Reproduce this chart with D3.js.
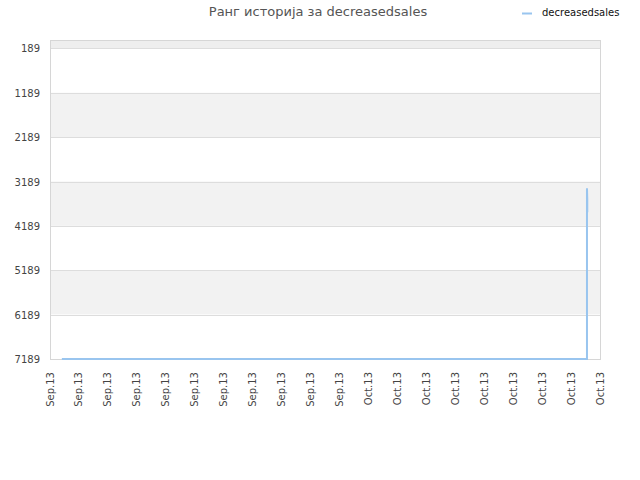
<!DOCTYPE html>
<html>
<head>
<meta charset="utf-8">
<script src="https://cdn.jsdelivr.net/npm/d3@7"></script>
<style>
  body { margin: 0; background: #fff; }
  text { font-family: "DejaVu Sans", sans-serif; }
</style>
</head>
<body>
<div id="chart"></div>
<script>
// x tick labels, one per tick slot
var tickLabels = ['Sep.13', 'Sep.13', 'Sep.13', 'Sep.13', 'Sep.13', 'Sep.13', 'Sep.13', 'Sep.13', 'Sep.13', 'Sep.13', 'Sep.13',
  'Oct.13', 'Oct.13', 'Oct.13', 'Oct.13', 'Oct.13', 'Oct.13', 'Oct.13', 'Oct.13', 'Oct.13'];
var yTicks = [189, 1189, 2189, 3189, 4189, 5189, 6189, 7189];
// series: position in tick slots, rank
var seriesX = [0.41, 18.55, 18.55, 18.56, 18.56];
var seriesRank = [7189, 7189, 3340, 3590, 3880];
var seriesName = 'decreasedsales';

var chartW = 640, chartH = 480;
var plotLeft = 50, plotRight = 600, plotTop = 40, plotBottom = 359;

var svg = d3.select('#chart').append('svg')
  .attr('width', chartW)
  .attr('height', chartH);

var x = d3.scaleLinear().domain([0, tickLabels.length - 1]).range([plotLeft, plotRight]);
var y = d3.scaleLinear().domain([0, 7189]).range([plotTop, plotBottom]);

// bands
var bandEdges = [0].concat(yTicks);
for (var i = 0; i < bandEdges.length - 1; i++) {
  svg.append('rect')
    .attr('x', plotLeft)
    .attr('y', y(bandEdges[i]))
    .attr('width', plotRight - plotLeft)
    .attr('height', y(bandEdges[i + 1]) - y(bandEdges[i]))
    .attr('fill', i === 0 ? '#eeeeee' : (i % 2 === 0 ? '#f2f2f2' : '#ffffff'));
}

// grid lines
svg.selectAll('line.grid')
  .data(yTicks)
  .enter().append('line')
  .attr('class', 'grid')
  .attr('x1', plotLeft).attr('x2', plotRight)
  .attr('y1', function (d) { return Math.round(y(d)) + 0.5; })
  .attr('y2', function (d) { return Math.round(y(d)) + 0.5; })
  .attr('stroke', '#dddddd');

// border
svg.append('rect')
  .attr('x', plotLeft + 0.5).attr('y', plotTop + 0.5)
  .attr('width', plotRight - plotLeft).attr('height', plotBottom - plotTop)
  .attr('fill', 'none')
  .attr('stroke', '#d6d6d6');

// y labels
svg.selectAll('text.ylab')
  .data(yTicks)
  .enter().append('text')
  .attr('class', 'ylab')
  .attr('x', plotLeft - 10)
  .attr('y', function (d) { return y(d) + 4; })
  .attr('text-anchor', 'end')
  .attr('font-size', 10)
  .attr('fill', '#444')
  .text(function (d) { return d; });

// x labels
svg.selectAll('text.xlab')
  .data(tickLabels)
  .enter().append('text')
  .attr('class', 'xlab')
  .attr('transform', function (d, i) { return 'translate(' + (x(i) + 3.5) + ',' + (plotBottom + 13) + ') rotate(-90)'; })
  .attr('text-anchor', 'end')
  .attr('font-size', 10)
  .attr('fill', '#444')
  .text(function (d) { return d; });

// line
var pts = seriesX.map(function (v, i) { return [v, seriesRank[i]]; });
svg.append('path')
  .datum(pts)
  .attr('d', d3.line().x(function (d) { return x(d[0]); }).y(function (d) { return y(d[1]); }))
  .attr('fill', 'none')
  .attr('stroke', '#99c5ef')
  .attr('stroke-width', 2);

// title
svg.append('text')
  .attr('x', 318).attr('y', 16)
  .attr('text-anchor', 'middle')
  .attr('font-size', 13)
  .attr('fill', '#555')
  .text('Ранг историја за ' + seriesName);

// legend
svg.append('line')
  .attr('x1', 522).attr('x2', 532)
  .attr('y1', 13.5).attr('y2', 13.5)
  .attr('stroke', '#99c5ef').attr('stroke-width', 2);
svg.append('text')
  .attr('x', 542).attr('y', 16)
  .attr('font-size', 10)
  .attr('fill', '#111')
  .text(seriesName);
</script>
</body>
</html>
